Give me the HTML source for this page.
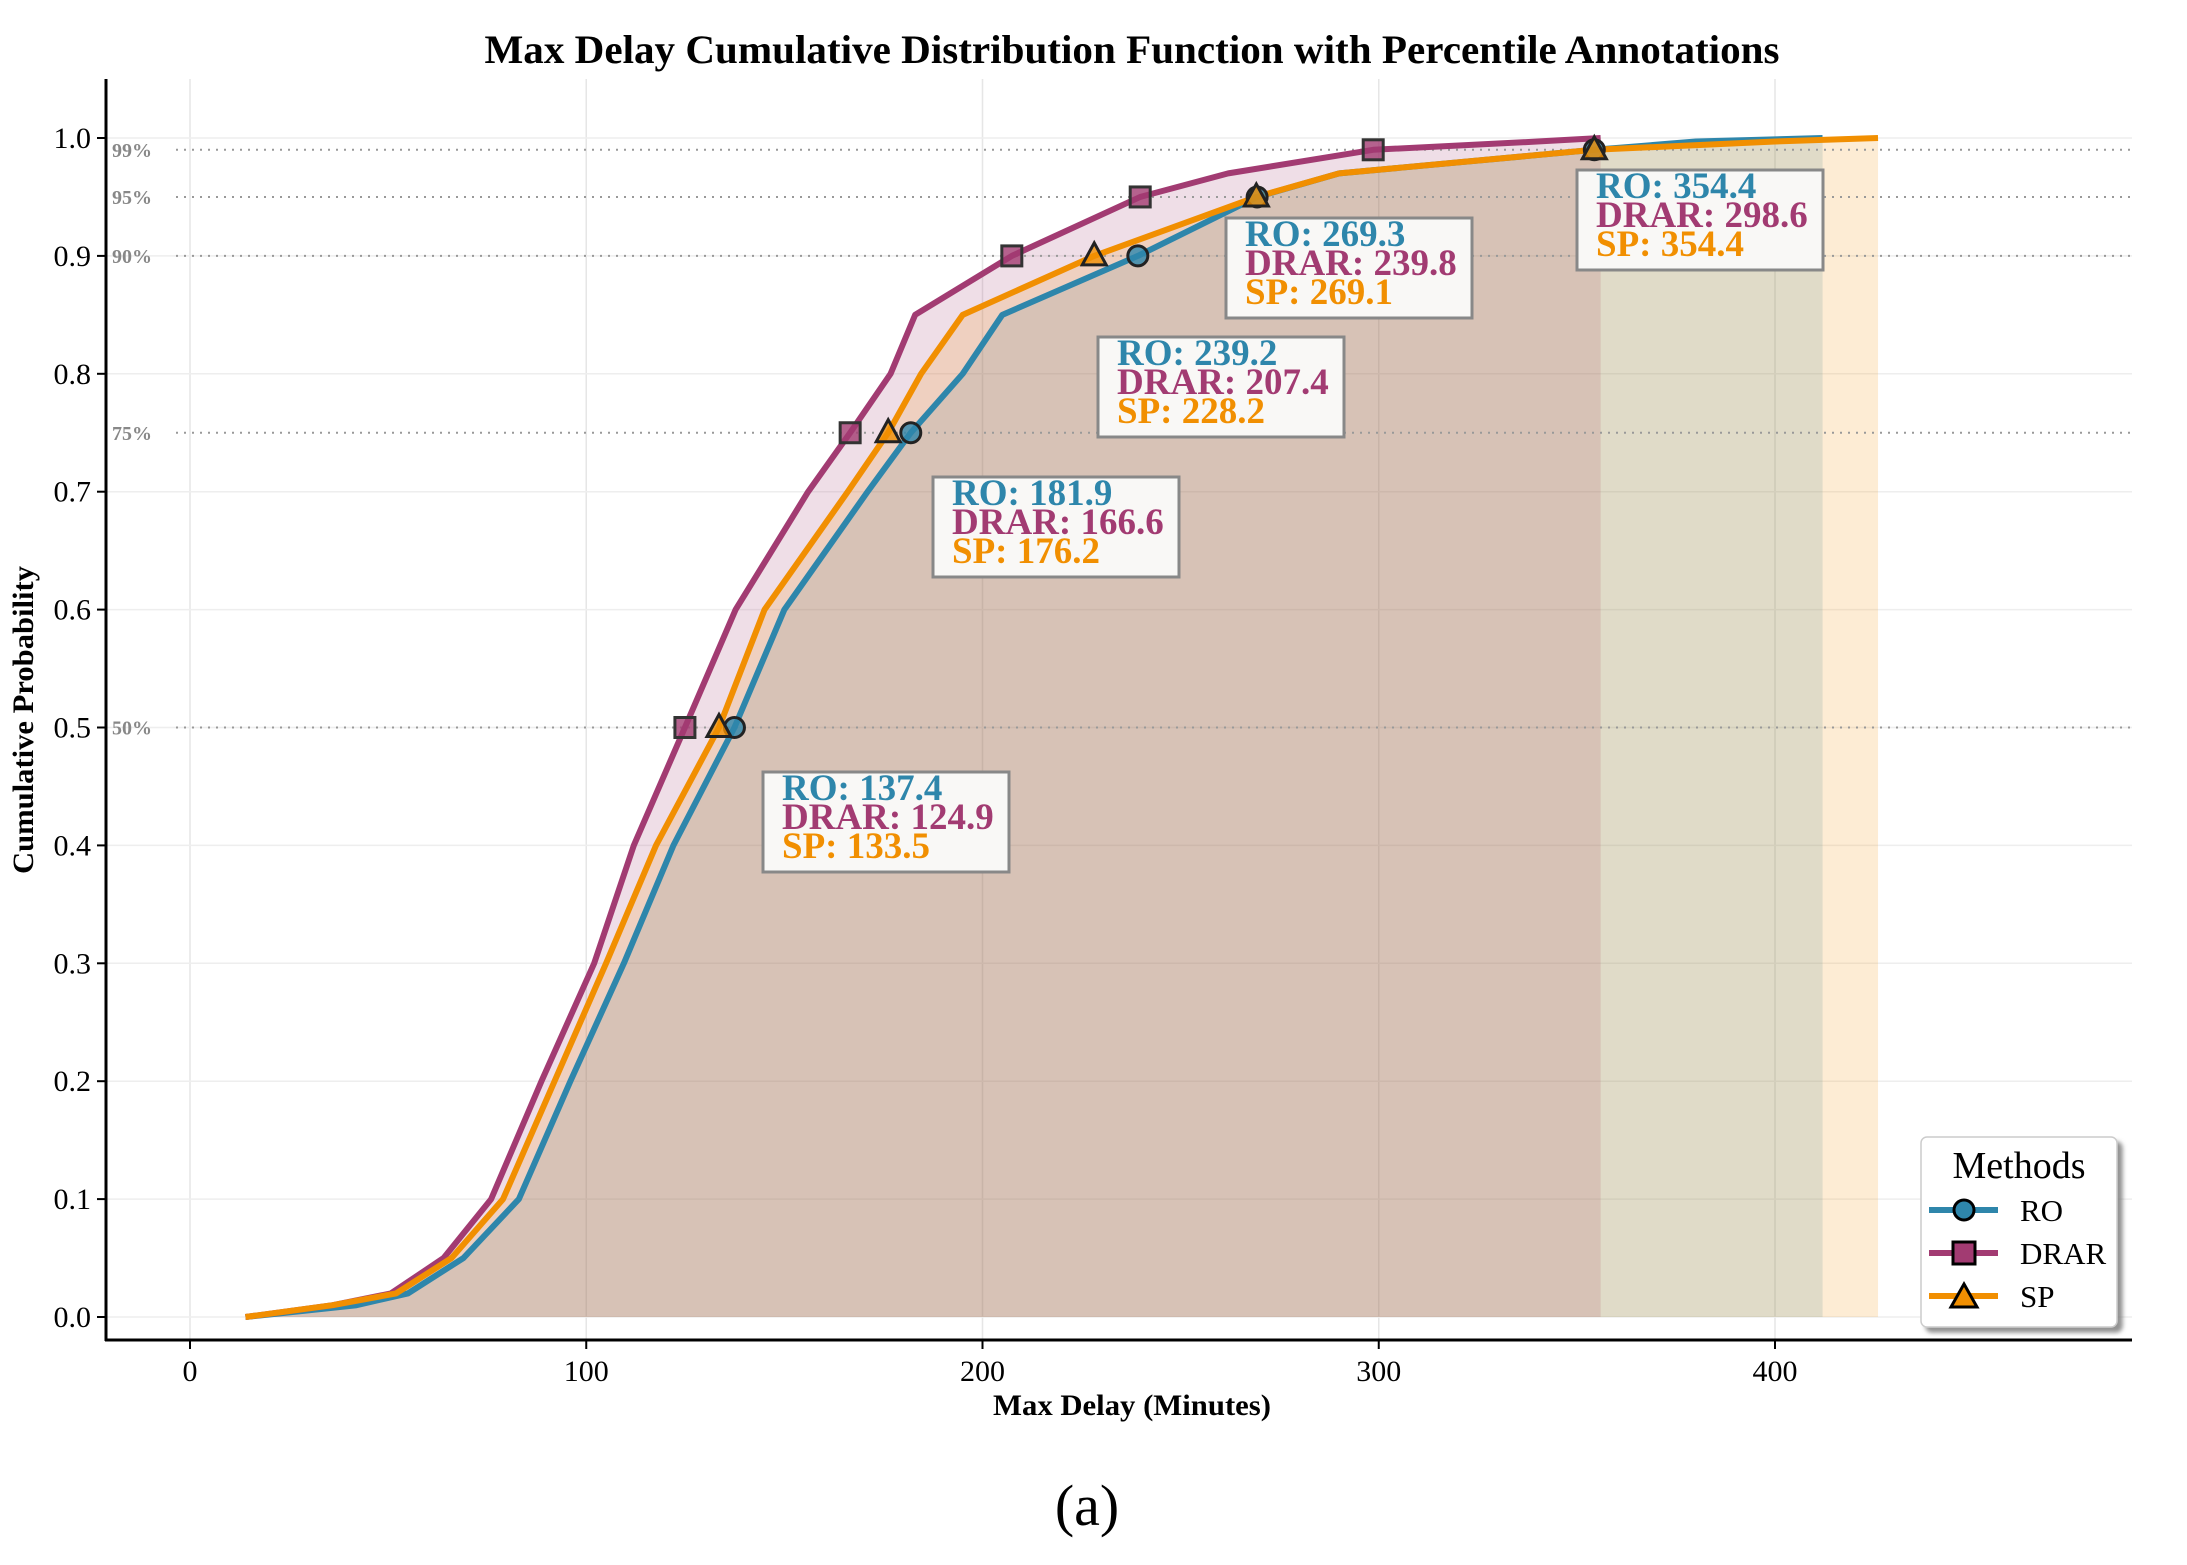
<!DOCTYPE html>
<html><head><meta charset="utf-8"><style>
body{margin:0;background:#fff;}
svg text{font-family:"Liberation Serif",serif;}
</style></head><body>
<svg id="c" width="2187" height="1560" viewBox="0 0 2187 1560" xmlns="http://www.w3.org/2000/svg">
<defs><filter id="sh" x="-10%" y="-10%" width="130%" height="130%"><feDropShadow dx="5" dy="5" stdDeviation="2" flood-color="#777" flood-opacity="0.8"/></filter></defs>
<g id="grid"></g><g id="fills"></g><g id="pct"></g><g id="lines"></g><g id="marks"></g><g id="axes"></g><g id="ann"></g>
<text x="1132" y="63" text-anchor="middle" font-size="40" font-weight="bold" textLength="1295" lengthAdjust="spacingAndGlyphs">Max Delay Cumulative Distribution Function with Percentile Annotations</text>
<text x="1132" y="1436" text-anchor="middle" font-size="30" font-weight="bold" textLength="278" lengthAdjust="spacingAndGlyphs" transform="translate(0,-21)">Max Delay (Minutes)</text>
<text transform="translate(33,720) rotate(-90)" text-anchor="middle" font-size="30" font-weight="bold" textLength="308" lengthAdjust="spacingAndGlyphs">Cumulative Probability</text>
<text x="1087" y="1545" text-anchor="middle" font-size="58" transform="translate(0,-20)">(a)</text>
<g>
<rect x="1921" y="1137" width="196" height="190" rx="6" fill="#fff" stroke="#ccc" stroke-width="1.5" filter="url(#sh)"/>
<text x="2019" y="1178" text-anchor="middle" font-size="38">Methods</text>
<g><line x1="1929" y1="1210" x2="1998" y2="1210" stroke="#2E86AB" stroke-width="6"/><circle cx="1964" cy="1210" r="10" fill="#2E86AB" stroke="#000" stroke-width="3"/><text x="2020" y="1221" font-size="31">RO</text></g>
<g><line x1="1929" y1="1253" x2="1998" y2="1253" stroke="#A23B72" stroke-width="6"/><rect x="1953" y="1242" width="22" height="22" fill="#A23B72" stroke="#000" stroke-width="3"/><text x="2020" y="1264" font-size="31">DRAR</text></g>
<g><line x1="1929" y1="1296" x2="1998" y2="1296" stroke="#F18F01" stroke-width="6"/><polygon points="1964,1284 1977,1307 1951,1307" fill="#F18F01" stroke="#000" stroke-width="3"/><text x="2020" y="1307" font-size="31">SP</text></g>
</g>
</svg>
<script>
const probs=[0,0.01,0.02,0.05,0.1,0.2,0.3,0.4,0.5,0.6,0.7,0.75,0.8,0.85,0.9,0.95,0.97,0.99,0.997,1];
const roX=[14,42,55,69,83,96,109.5,122,137.4,150,171,181.9,195,205,239.2,269.3,290,354.4,380,412];
const drarX=[14,36,50.7,64,76,88.7,102,112,124.9,137.7,156,166.6,176.8,183,207.4,239.8,262,298.6,340,356];
const spX=[14,36,52,66,79,92,105,117.6,133.5,145,166,176.2,184.5,195,228.2,269.1,290,354.4,400,426];
const pctLevels=[0.5,0.75,0.9,0.95,0.99];
const pctLabels=["50%","75%","90%","95%","99%"];
const roP=[137.4,181.9,239.2,269.3,354.4];
const drarP=[124.9,166.6,207.4,239.8,298.6];
const spP=[133.5,176.2,228.2,269.1,354.4];
const xTicks=[0,100,200,300,400];
const yTicks=[0,0.1,0.2,0.3,0.4,0.5,0.6,0.7,0.8,0.9,1.0];
const boxPos=[[763,772],[933,477],[1098,337],[1226,218],[1577,170]];
const X=v=>190+v*3.9625, Y=p=>1317-p*1179;
const NS="http://www.w3.org/2000/svg";
function mk(t,a,parent){const e=document.createElementNS(NS,t);for(const k in a)e.setAttribute(k,a[k]);document.getElementById(parent).appendChild(e);return e;}
const L=106,R=2132,T=79,B=1340;
xTicks.forEach(v=>{const e=mk('line',{x1:X(v),x2:X(v),y1:T,y2:B,stroke:'#e6e6e6','stroke-width':1.5},'grid');

});
yTicks.forEach(v=>{const e=mk('line',{x1:L,x2:R,y1:Y(v),y2:Y(v),stroke:'#eeeeee','stroke-width':1.5},'grid');

});
const series=[["ro",roX,"#2E86AB",roP],["drar",drarX,"#A23B72",drarP],["sp",spX,"#F18F01",spP]];
series.forEach(([n,xs,c])=>{let d=`M${X(xs[0])},${Y(0)}`;xs.forEach((x,i)=>d+=` L${X(x)},${Y(probs[i])}`);d+=` L${X(xs[xs.length-1])},${Y(0)} Z`;
const f=mk('path',{d,fill:c,'fill-opacity':0.17,stroke:'none'},'fills');

});
pctLevels.forEach((p,i)=>{const l=mk('line',{x1:L+70,x2:R,y1:Y(p),y2:Y(p),stroke:'#999','stroke-width':2,'stroke-dasharray':'2,6'},'pct');


const t=mk('text',{x:112,y:Y(p)+7,'font-size':20,'font-weight':'bold',fill:'#888'},'pct');t.textContent=pctLabels[i];

});
series.forEach(([n,xs,c])=>{const pts=xs.map((x,i)=>X(x)+','+Y(probs[i])).join(' ');
const e=mk('polyline',{points:pts,fill:'none',stroke:c,'stroke-width':6,'stroke-linejoin':'round'},'lines');

});
series.forEach(([n,xs,c,P])=>{P.forEach((v,i)=>{const cx=X(v),cy=Y(pctLevels[i]);let e;
if(n==='ro')e=mk('circle',{cx,cy,r:10,fill:c,'fill-opacity':0.8,stroke:'#222','stroke-width':3},'marks');
else if(n==='drar')e=mk('rect',{x:cx-10,y:cy-10,width:20,height:20,fill:c,'fill-opacity':0.8,stroke:'#333','stroke-width':3},'marks');
else e=mk('polygon',{points:`${cx},${cy-13} ${cx+12},${cy+9} ${cx-12},${cy+9}`,fill:c,'fill-opacity':0.8,stroke:'#222','stroke-width':3},'marks');

});});
mk('line',{x1:L,x2:L,y1:T,y2:B+1,stroke:'#000','stroke-width':3},'axes');
mk('line',{x1:L-1,x2:R,y1:B,y2:B,stroke:'#000','stroke-width':3},'axes');
xTicks.forEach(v=>{mk('line',{x1:X(v),x2:X(v),y1:B,y2:B+9,stroke:'#000','stroke-width':2},'axes');
const t=mk('text',{x:X(v),y:B+41,'text-anchor':'middle','font-size':30},'axes');t.textContent=v;

});
yTicks.forEach(v=>{mk('line',{x1:L-9,x2:L,y1:Y(v),y2:Y(v),stroke:'#000','stroke-width':2},'axes');
const t=mk('text',{x:L-15,y:Y(v)+10,'text-anchor':'end','font-size':30},'axes');t.textContent=v.toFixed(1);

});
boxPos.forEach(([bx,by],i)=>{const r=mk('rect',{x:bx,y:by,width:246,height:100,fill:'#f9f8f6',stroke:'#888','stroke-width':3},'ann');


[["RO",roP[i],"#2E86AB"],["DRAR",drarP[i],"#A23B72"],["SP",spP[i],"#F18F01"]].forEach(([lab,v,c],j)=>{
const t=mk('text',{x:bx+19,y:by+28+j*29,'font-size':37,'font-weight':'bold',fill:c},'ann');t.textContent=lab+': '+v.toFixed(1);

});});
</script>
</body></html>
